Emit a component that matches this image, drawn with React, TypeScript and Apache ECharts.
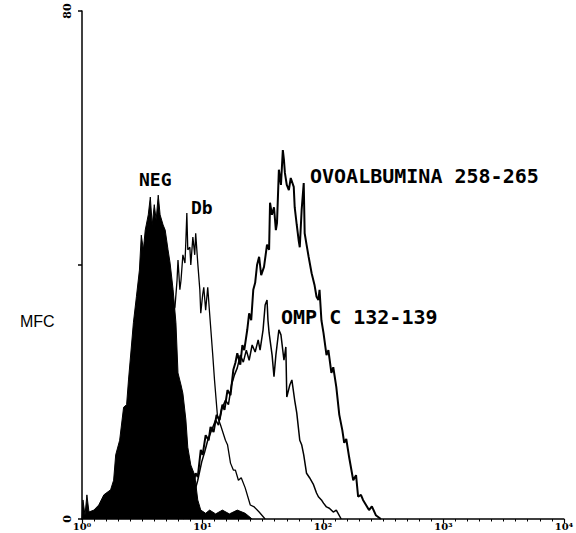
import React, { useEffect, useRef } from "react";
import * as echarts from "echarts";

// x = log-amplified channel (64 channels per decade, 0..256), y = cell count
const negData: [number, number][] = [
  [0, 0], [0.5, 3.0], [1.6, 0.6], [2.6, 3.8], [3.7, 1.1], [6.3, 1.4], [8.9, 2.2], [11.6, 3.8],
  [15.2, 4.6], [16.8, 6.1], [17.9, 10.1], [20.0, 12.4], [22.1, 17.6], [23.7, 18.0], [24.7, 21.9],
  [26.3, 27.4], [27.3, 30.9], [28.9, 35.0], [30.5, 39.2], [31.5, 44.7], [32.6, 42.4], [33.6, 45.5],
  [35.2, 47.9], [36.3, 50.7], [37.3, 46.3], [38.4, 49.5], [39.4, 47.1], [40.5, 51.0], [41.5, 47.9],
  [43.1, 46.3], [44.2, 45.5], [45.7, 42.4], [46.8, 40.3], [48.4, 36.1], [49.9, 30.9], [51.0, 23.0],
  [52.6, 21.1], [53.6, 19.8], [55.2, 15.6], [56.2, 11.3], [57.8, 8.5], [59.9, 6.9], [61.5, 3.0],
  [63.1, 1.4], [65.7, 0.9], [67.8, 1.4], [71.0, 0.8], [74.6, 1.4], [78.3, 0.8], [82.5, 1.4],
  [86.7, 0.9], [90.4, 0],
];

const dbData: [number, number][] = [
  [19.5, 0], [30.0, 7.7], [40.5, 21.9], [46.8, 31.3], [49.4, 33.4], [50.5, 37.6], [51.0, 40.8],
  [52.0, 36.1], [52.6, 37.6], [53.6, 41.6], [54.7, 40.3], [55.2, 43.9], [55.7, 48.2], [56.2, 42.4],
  [57.3, 42.8], [57.8, 40.0], [58.9, 44.4], [59.9, 41.6], [60.4, 45.0], [61.5, 40.3], [62.6, 36.1],
  [63.1, 32.4], [64.1, 35.3], [64.7, 36.5], [65.7, 32.9], [66.8, 36.5], [67.8, 32.4], [69.4, 26.1],
  [70.4, 21.9], [72.0, 16.1], [73.6, 14.8], [76.2, 12.4], [77.3, 11.7], [78.9, 8.8], [80.4, 7.7],
  [81.5, 7.7], [83.1, 6.1], [84.6, 6.5], [86.7, 4.9], [89.4, 2.2], [91.5, 1.9], [94.1, 1.1], [97.3, 0],
];

const ovoData: [number, number][] = [
  [53.6, 0], [56.2, 3.0], [58.9, 5.4], [60.4, 7.2], [61.5, 6.6], [63.1, 10.9], [64.1, 10.1],
  [65.7, 13.2], [67.3, 12.4], [68.3, 14.5], [69.9, 13.7], [71.5, 16.4], [73.1, 15.6], [74.6, 18.0],
  [75.7, 17.2], [77.3, 20.3], [78.9, 19.5], [80.4, 23.5], [81.5, 24.6], [82.5, 26.1], [84.1, 24.3],
  [85.2, 27.4], [86.2, 26.6], [87.8, 29.8], [88.8, 32.4], [89.9, 31.3], [91.0, 36.1], [92.0, 37.2],
  [93.0, 40.0], [94.1, 41.3], [95.2, 38.4], [96.7, 39.7], [98.3, 43.2], [99.4, 42.4], [99.9, 49.8],
  [100.9, 47.9], [102.0, 49.1], [103.0, 45.5], [103.6, 46.6], [104.6, 55.0], [105.7, 52.6],
  [106.7, 58.1], [107.3, 56.5], [107.8, 54.5], [108.8, 52.6], [109.9, 51.8], [110.9, 53.7],
  [112.5, 52.3], [113.0, 49.1], [114.1, 46.3], [115.1, 43.9], [115.7, 42.8], [116.7, 48.7],
  [117.8, 52.9], [118.3, 45.0], [119.3, 43.2], [120.4, 41.3], [122.0, 38.7], [123.5, 36.9],
  [124.6, 35.0], [125.6, 34.5], [126.2, 36.1], [127.2, 31.3], [128.3, 29.3], [129.9, 25.8],
  [130.9, 26.6], [132.5, 23.0], [133.5, 23.9], [135.1, 20.8], [136.7, 16.4], [138.3, 14.0],
  [139.3, 12.0], [140.4, 12.6], [142.0, 9.6], [144.1, 6.1], [145.6, 6.9], [146.7, 3.5],
  [148.2, 3.8], [149.3, 3.0], [150.9, 2.2], [152.5, 1.4], [154.0, 2.0], [156.1, 0.6], [158.8, 0],
];

const ompData: [number, number][] = [
  [56.2, 0], [59.4, 3.8], [61.5, 6.1], [63.6, 9.0], [65.2, 10.6], [66.8, 12.4], [68.9, 14.0],
  [71.0, 15.6], [72.5, 14.8], [74.1, 17.2], [76.2, 18.7], [77.8, 18.0], [79.4, 21.1], [81.0, 22.7],
  [82.5, 23.8], [84.1, 25.8], [85.7, 24.7], [87.3, 26.6], [88.8, 25.0], [90.4, 27.4], [92.0, 26.3],
  [93.6, 28.2], [94.6, 26.6], [96.2, 29.8], [97.3, 33.7], [98.3, 34.5], [98.8, 31.3], [99.4, 29.3],
  [101.0, 25.8], [102.0, 22.4], [103.0, 25.8], [104.6, 29.8], [105.7, 29.0], [107.3, 25.0],
  [108.3, 27.1], [108.8, 19.2], [110.4, 21.1], [111.5, 21.9], [113.0, 18.7], [114.1, 16.7],
  [115.7, 12.4], [116.7, 11.7], [117.8, 10.1], [119.3, 7.2], [120.9, 6.5], [123.0, 5.4],
  [124.6, 4.1], [125.6, 3.5], [127.2, 3.0], [128.3, 2.5], [129.9, 1.9], [131.4, 1.7],
  [133.5, 1.1], [135.1, 1.4], [137.7, 0],
];

const xTickLabels = ["10⁰", "10¹", "10²", "10³", "10⁴"];
const yTickLabels: Record<number, string> = { 0: "0", 40: "", 80: "80" };

const labelFont = "'DejaVu Sans Mono', monospace";

export default function App() {
  const ref = useRef<HTMLDivElement>(null);
  useEffect(() => {
    if (!ref.current) return;
    const chart = echarts.init(ref.current, null, { renderer: "svg" });
    const lineSeries = (name: string, data: [number, number][], width: number, z: number) => ({
      name,
      type: "line",
      data,
      symbol: "none",
      z,
      lineStyle: { color: "#000", width },
    });
    chart.setOption({
      animation: false,
      backgroundColor: "#fff",
      grid: { left: 82, right: 7, top: 11, bottom: 14 },
      xAxis: {
        type: "value",
        min: 0,
        max: 256,
        interval: 64,
        axisLine: { show: true, onZero: false, lineStyle: { color: "#000", width: 1.5 } },
        axisTick: { show: true, length: 4, lineStyle: { color: "#000", width: 1.2 } },
        minorTick: { show: true, splitNumber: 10, length: 2.5, lineStyle: { color: "#000", width: 1 } },
        splitLine: { show: false },
        axisLabel: {
          formatter: (v: number) => xTickLabels[Math.round(v / 64)] ?? "",
          color: "#000",
          fontSize: 10,
          fontWeight: "bold",
          fontFamily: "'DejaVu Serif', serif",
          margin: 2,
        },
      },
      yAxis: {
        type: "value",
        min: 0,
        max: 80,
        interval: 40,
        axisLine: { show: true, lineStyle: { color: "#000", width: 1.5 } },
        axisTick: { show: true, length: 4, lineStyle: { color: "#000", width: 1.5 } },
        splitLine: { show: false },
        axisLabel: {
          formatter: (v: number) => yTickLabels[v] ?? "",
          rotate: 90,
          color: "#000",
          fontSize: 11,
          fontWeight: "bold",
          fontFamily: "'DejaVu Serif', serif",
          margin: 9,
        },
      },
      graphic: [
        { type: "text", left: 20, top: 313, style: { text: "MFC", font: "16px 'Liberation Sans', Arial, sans-serif", fill: "#000" } },
        { type: "text", left: 139, top: 170, style: { text: "NEG", font: "bold 18px " + labelFont, fill: "#000" } },
        { type: "text", left: 191, top: 198, style: { text: "Db", font: "bold 18px " + labelFont, fill: "#000" } },
        { type: "text", left: 310, top: 166, style: { text: "OVOALBUMINA 258-265", font: "bold 20px " + labelFont, fill: "#000" } },
        { type: "text", left: 281, top: 307, style: { text: "OMP C 132-139", font: "bold 20px " + labelFont, fill: "#000" } },
      ],
      series: [
        lineSeries("Db", dbData, 1.3, 2),
        lineSeries("OMP C 132-139", ompData, 1.5, 3),
        lineSeries("OVOALBUMINA 258-265", ovoData, 2, 4),
        {
          ...lineSeries("NEG", negData, 1, 5),
          areaStyle: { color: "#000", opacity: 1 },
        },
      ],
    });
    return () => chart.dispose();
  }, []);
  return <div ref={ref} style={{ position: "fixed", left: 0, top: 0, width: 576, height: 533 }} />;
}
